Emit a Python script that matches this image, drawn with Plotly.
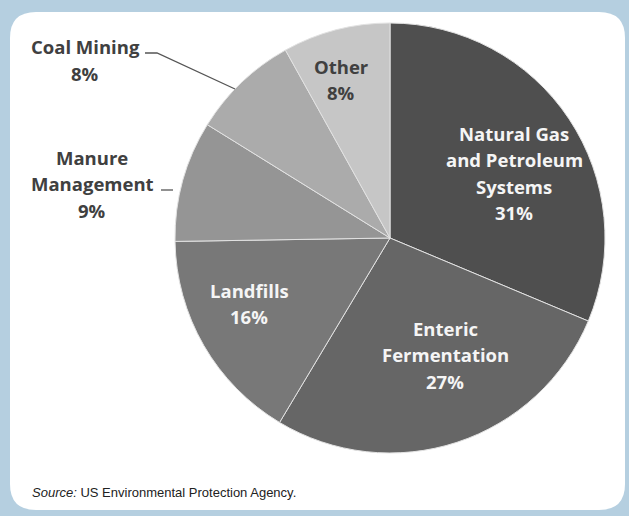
import plotly.graph_objects as go

W, H = 629, 516

categories = ["Natural Gas and Petroleum Systems", "Enteric Fermentation", "Landfills",
              "Manure Management", "Coal Mining", "Other"]
values = [31, 27, 16, 9, 8, 8]
label_lines = [["Natural Gas", "and Petroleum", "Systems"], ["Enteric", "Fermentation"],
               ["Landfills"], ["Manure", "Management"], ["Coal Mining"], ["Other"]]
colors = ["#4f4f4f", "#666666", "#787878", "#959595", "#ababab", "#c6c6c6"]
text_colors = ["#f5f5f5", "#f5f5f5", "#f5f5f5", "#404040", "#404040", "#404040"]
# label anchor positions in pixels (centre x, first-line y)
label_pos = [(514, 133), (445, 328), (249, 290), (92, 157), (85, 47), (341, 66)]

def px(x):
    return x / W

def py(y):
    return 1 - y / H

cx, cy, r = 390, 238, 215

fig = go.Figure()
fig.add_trace(go.Pie(
    labels=categories, values=values, sort=False, direction="clockwise", rotation=0,
    marker=dict(colors=colors, line=dict(color="#e2e2e2", width=1)),
    textinfo="none", hoverinfo="label+percent", showlegend=False,
    domain=dict(x=[px(cx - r), px(cx + r)], y=[py(cy + r), py(cy - r)]),
))

line_h = 26.5
for lines, v, (x, y), tc in zip(label_lines, values, label_pos, text_colors):
    all_lines = lines + [f"{v}%"]
    for i, t in enumerate(all_lines):
        fig.add_annotation(
            x=px(x), y=py(y + i * line_h), xref="paper", yref="paper",
            text=f"<b>{t}</b>", showarrow=False, xanchor="center", yanchor="middle",
            font=dict(family="Open Sans", size=18.5, color=tc),
        )

# white rounded panel
x0, y0, x1, y1, rr = 10, 12, 625, 510, 26
path = (f"M {px(x0+rr)},{py(y0)} L {px(x1-rr)},{py(y0)} Q {px(x1)},{py(y0)} {px(x1)},{py(y0+rr)} "
        f"L {px(x1)},{py(y1-rr)} Q {px(x1)},{py(y1)} {px(x1-rr)},{py(y1)} "
        f"L {px(x0+rr)},{py(y1)} Q {px(x0)},{py(y1)} {px(x0)},{py(y1-rr)} "
        f"L {px(x0)},{py(y0+rr)} Q {px(x0)},{py(y0)} {px(x0+rr)},{py(y0)} Z")
fig.add_shape(type="path", path=path, xref="paper", yref="paper",
              fillcolor="white", line=dict(width=0), layer="below")

# leader lines
fig.add_shape(type="path", xref="paper", yref="paper",
              path=f"M {px(145)},{py(53)} L {px(157)},{py(53)} L {px(235)},{py(89)}",
              line=dict(color="#555555", width=1.3))
fig.add_shape(type="line", xref="paper", yref="paper",
              x0=px(161), y0=py(190), x1=px(173), y1=py(190),
              line=dict(color="#555555", width=1.3))

fig.add_annotation(
    x=px(30), y=py(492), xref="paper", yref="paper", showarrow=False,
    xanchor="left", yanchor="middle",
    text="<i>Source:</i> US Environmental Protection Agency.",
    font=dict(family="Liberation Sans, Arial", size=13, color="#222222"),
)

fig.update_layout(
    width=W, height=H, margin=dict(l=0, r=0, t=0, b=0),
    paper_bgcolor="#b5cfe0", plot_bgcolor="#b5cfe0",
)

fig.write_html("out.html")
